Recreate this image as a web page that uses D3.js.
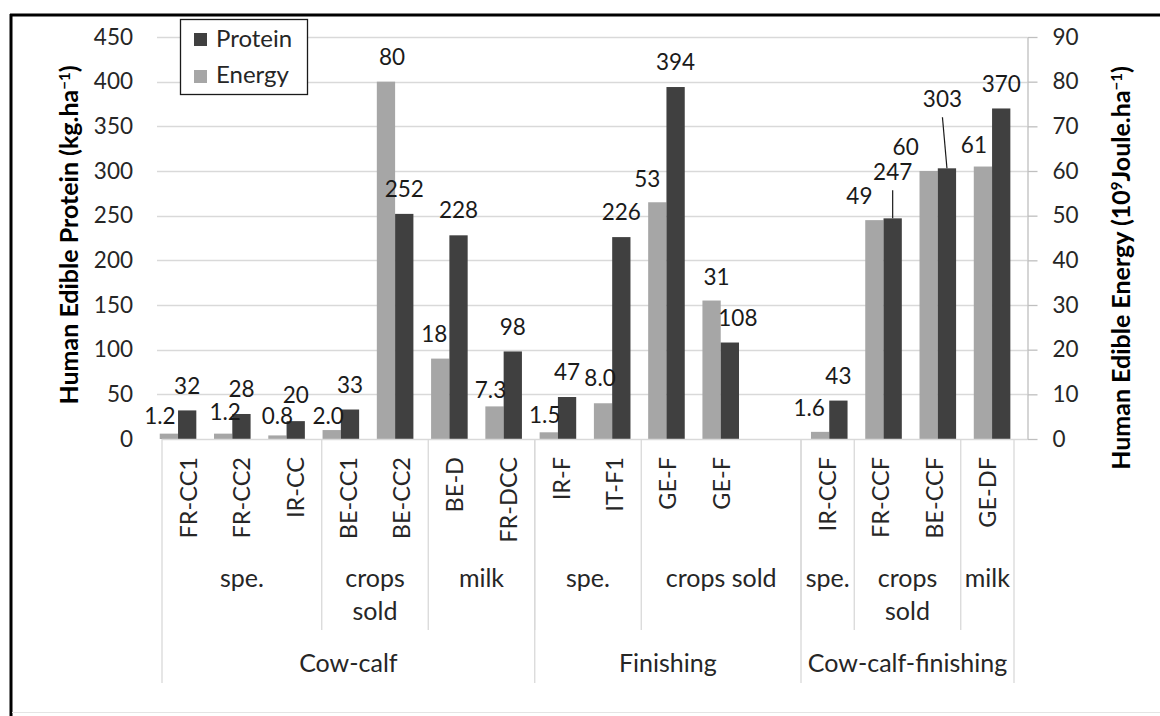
<!DOCTYPE html>
<html>
<head>
<meta charset="utf-8">
<script src="https://cdn.jsdelivr.net/npm/d3@7"></script>
<style>
  html, body { margin: 0; padding: 0; background: #fff; }
  svg { display: block; font-family: Lato, "Open Sans", sans-serif; }
</style>
</head>
<body>
<svg id="chart" width="1160" height="716"></svg>
<script>
// ---------------- data ----------------
const categories = ["FR-CC1","FR-CC2","IR-CC","BE-CC1","BE-CC2","BE-D","FR-DCC","IR-F","IT-F1","GE-F","GE-F","","IR-CCF","FR-CCF","BE-CCF","GE-DF"];
const protein = [32,28,20,33,252,228,98,47,226,394,108,null,43,247,303,370];
const energy  = [1.2,1.2,0.8,2.0,80,18,7.3,1.5,8.0,53,31,null,1.6,49,60,61];
const subGroupNames = ["spe.","crops sold","milk","spe.","crops sold","spe.","crops sold","milk"];
const subGroupSizes = [3,2,2,2,3,1,2,1];
const topGroupNames = ["Cow-calf","Finishing","Cow-calf-finishing"];
const topGroupSizes = [7,5,4];
const leftTicks  = [0,50,100,150,200,250,300,350,400,450];
const rightTicks = [0,10,20,30,40,50,60,70,80,90];
const seriesNames = ["Protein","Energy"];

// label layout nudges (manual placement of data labels, [dx, dy])
const energyLabelNudge = [[-9,7],[2,3],[0,5],[-3.5,11],[6,0],[-6,0],[-4,9],[-4,8],[-3,0],[-10,2],[5,1],[0,0],[-11,1],[-15,1],[-23,1],[-9,3]];
const proteinLabelNudge = [[0,0],[0,0],[0,-1],[0,0],[0,0],[0,0],[0,0],[0,0],[0,0],[0,0],[8,0],[0,0],[0,0],[0,-21],[-4.5,-44],[0,0]];
const leaderLine = [false,false,false,false,false,false,false,false,false,false,false,false,false,true,true,false];

// ---------------- layout ----------------
const svg = d3.select("#chart");
const C = { protein: "#404040", energy: "#a6a6a6", grid: "#d9d9d9", text: "#262626" };
const FS = 22.5;      // tick and data labels
const FS_CAT = 23.5;  // rotated category labels
const FS_GRP = 25;    // group labels
const FS_LEG = 24;

const idx = d3.range(categories.length);
const x0 = d3.scaleBand().domain(idx).range([150.9, 1019.2]).paddingInner(0.326).paddingOuter(0.163);
const x1 = d3.scaleBand().domain(["Energy","Protein"]).range([0, x0.bandwidth()]);
const xl = d3.scaleBand().domain(idx).range([162, 1014]);   // category label area
const yL = d3.scaleLinear().domain([0,450]).range([439,37]);
const yR = d3.scaleLinear().domain([0,90]).range([439,37]);

// frame
svg.append("rect").attr("x",0).attr("y",0).attr("width",1160).attr("height",716).attr("fill","#fff");
svg.append("line").attr("x1",11).attr("x2",11).attr("y1",14).attr("y2",716).attr("stroke","#000").attr("stroke-width",3);
svg.append("line").attr("x1",10).attr("x2",1160).attr("y1",15).attr("y2",15).attr("stroke","#000").attr("stroke-width",3);
svg.append("line").attr("x1",12).attr("x2",1160).attr("y1",712.5).attr("y2",712.5).attr("stroke","#e4e4e4").attr("stroke-width",1);

// gridlines
svg.append("g").selectAll("line").data(leftTicks.filter(d => d > 0)).join("line")
  .attr("x1",157).attr("x2",1027)
  .attr("y1",d => Math.round(yL(d))+0.5).attr("y2",d => Math.round(yL(d))+0.5)
  .attr("stroke",C.grid).attr("stroke-width",1.3);

// left axis labels
const gL = svg.append("g").attr("transform","translate(133,0)")
  .call(d3.axisLeft(yL).tickValues(leftTicks).tickSize(0).tickPadding(0));
gL.select(".domain").remove();
gL.selectAll("text").attr("font-size",FS).attr("font-family","Lato").attr("fill",C.text);

// right axis
const gR = svg.append("g").attr("transform","translate(1027.5,0)")
  .call(d3.axisRight(yR).tickValues(rightTicks).tickSize(10).tickPadding(15).tickSizeOuter(0));
gR.select(".domain").attr("stroke","#bfbfbf").attr("stroke-width",1.3);
gR.selectAll(".tick line").attr("stroke","#bfbfbf").attr("stroke-width",1.3);
gR.selectAll("text").attr("font-size",FS).attr("font-family","Lato").attr("fill",C.text);

// bars
const bars = svg.append("g");
idx.forEach(i => {
  if (energy[i] != null) {
    bars.append("rect").attr("x", x0(i)+x1("Energy")).attr("width", x1.bandwidth())
      .attr("y", yR(energy[i])).attr("height", yR(0)-yR(energy[i])).attr("fill", C.energy);
  }
  if (protein[i] != null) {
    bars.append("rect").attr("x", x0(i)+x1("Protein")).attr("width", x1.bandwidth())
      .attr("y", yL(protein[i])).attr("height", yL(0)-yL(protein[i])).attr("fill", C.protein);
  }
});

// bottom axis line
svg.append("line").attr("x1",162).attr("x2",1027).attr("y1",439.5).attr("y2",439.5)
  .attr("stroke",C.grid).attr("stroke-width",1.3);

// data labels
const fmtE = v => v < 10 ? v.toFixed(1) : v.toFixed(0);
const labels = svg.append("g").attr("font-size",FS).attr("fill","#1a1a1a").attr("text-anchor","middle");
idx.forEach(i => {
  if (energy[i] != null) {
    const cx = x0(i)+x1("Energy")+x1.bandwidth()/2 + energyLabelNudge[i][0];
    const cy = yR(energy[i]) - 25 + energyLabelNudge[i][1];
    labels.append("text").attr("x",cx).attr("y",cy).attr("dy","0.36em").text(fmtE(energy[i]));
  }
  if (protein[i] != null) {
    const bx = x0(i)+x1("Protein")+x1.bandwidth()/2;
    const cx = bx + proteinLabelNudge[i][0];
    const cy = yL(protein[i]) - 25 + proteinLabelNudge[i][1];
    labels.append("text").attr("x",cx).attr("y",cy).attr("dy","0.36em").text(d3.format("d")(protein[i]));
    if (leaderLine[i]) {
      svg.append("line").attr("x1",cx).attr("y1",cy+18).attr("x2",bx).attr("y2",yL(protein[i]))
        .attr("stroke","#1a1a1a").attr("stroke-width",1.2);
    }
  }
});

// category labels (rotated)
svg.append("g").selectAll("text").data(idx.filter(i => categories[i] !== "")).join("text")
  .attr("transform", i => `translate(${xl(i)+xl.bandwidth()/2},457) rotate(-90)`)
  .attr("dy","0.36em").attr("text-anchor","end").attr("font-size",FS_CAT).attr("fill",C.text)
  .text(i => categories[i]);

// sub groups
let start = 0;
const subG = svg.append("g");
subGroupNames.forEach((name, k) => {
  const a = xl(start), b = xl(start + subGroupSizes[k] - 1) + xl.bandwidth();
  if (start > 0) subG.append("line").attr("x1",a).attr("x2",a).attr("y1",439).attr("y2",630)
    .attr("stroke",C.grid).attr("stroke-width",1.3);
  const t = subG.append("text").attr("x",(a+b)/2).attr("y",587).attr("text-anchor","middle")
    .attr("font-size",FS_GRP).attr("fill",C.text).text(name);
  if (t.node().getComputedTextLength() > (b-a) - 4 && name.includes(" ")) {
    const words = name.split(" ");
    t.text(null);
    words.forEach((w, j) => t.append("tspan").attr("x",(a+b)/2).attr("dy", j === 0 ? 0 : 33).text(w));
  }
  start += subGroupSizes[k];
});

// top groups
start = 0;
const topG = svg.append("g");
topGroupNames.forEach((name, k) => {
  const a = xl(start), b = xl(start + topGroupSizes[k] - 1) + xl.bandwidth();
  topG.append("line").attr("x1",a).attr("x2",a).attr("y1",439).attr("y2",683)
    .attr("stroke",C.grid).attr("stroke-width",1.3);
  topG.append("text").attr("x",(a+b)/2).attr("y",672).attr("text-anchor","middle")
    .attr("font-size",FS_GRP).attr("fill",C.text).text(name);
  start += topGroupSizes[k];
});
topG.append("line").attr("x1",xl.range()[1]).attr("x2",xl.range()[1]).attr("y1",439).attr("y2",683)
  .attr("stroke",C.grid).attr("stroke-width",1.3);

// axis titles
function title(x, y, parts) {
  const t = svg.append("text").attr("transform",`translate(${x},${y}) rotate(-90)`)
    .attr("text-anchor","middle").attr("font-weight","bold").attr("font-size",25).attr("fill","#000");
  parts.forEach(p => {
    const s = t.append("tspan").text(p.t);
    if (p.sup) s.attr("font-size",15).attr("baseline-shift","55%");
  });
  return t;
}
title(78, 235, [{t:"Human Edible Protein (kg.ha"},{t:"\u22121",sup:true},{t:")"}]);
title(1130, 268, [{t:"Human Edible Energy (10"},{t:"9",sup:true},{t:"Joule.ha"},{t:"\u22121",sup:true},{t:")"}]);

// legend
const lg = svg.append("g");
lg.append("rect").attr("x",180.5).attr("y",19.5).attr("width",127).attr("height",75)
  .attr("fill","#fff").attr("stroke","#1a1a1a").attr("stroke-width",1.3);
const lgColors = [C.protein, C.energy];
seriesNames.forEach((n, k) => {
  lg.append("rect").attr("x",194).attr("y",33 + k*37).attr("width",13).attr("height",13).attr("fill",lgColors[k]);
  lg.append("text").attr("x",216).attr("y",47 + k*36).attr("font-size",FS_LEG).attr("fill",C.text).text(n);
});
</script>
</body>
</html>
